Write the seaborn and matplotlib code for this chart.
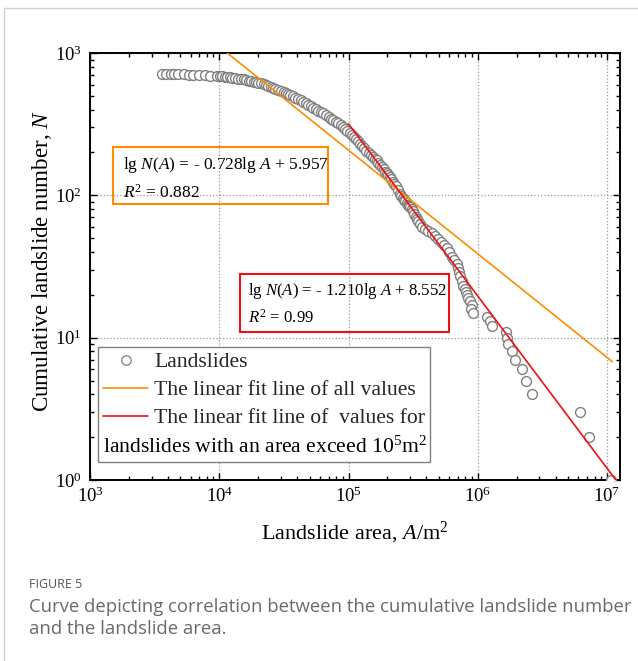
import numpy as np
import pandas as pd
import matplotlib
matplotlib.use("Agg")
import matplotlib.pyplot as plt
from matplotlib.lines import Line2D
from matplotlib.patches import Rectangle
import seaborn as sns

# ---------------- data ----------------
area = [3610, 3900, 4200, 4500, 4800, 5300, 5800, 6300, 7000, 7700, 8500, 9600,
        10050, 10500, 11000, 11500, 12050, 12600, 13300, 14000, 14700, 15400,
        16200, 17000, 17700, 18500, 19200, 20000, 21000, 22000, 23000, 24000,
        25000, 26000, 27200, 28500, 30000, 31400, 32700, 34000, 35500, 37000,
        38700, 40500, 42600, 44800, 46900, 49000, 51200, 53500, 56000, 58500,
        61200, 63900, 66900, 70000, 73000, 76000, 79500, 83000, 87000, 91200,
        94500, 98000, 102000, 106000, 110000, 114000, 118000, 122700, 127000,
        132000, 137500, 143000, 148500, 154000, 159500, 165000, 170500, 176000,
        182000, 188000, 193000, 198000, 203500, 209000, 214500, 220000, 226000,
        232000, 241000, 250000, 256000, 262000, 268500, 275000, 281500, 288000,
        293500, 299000, 307000, 315000, 322000, 330000, 337000, 345000, 356000,
        367000, 390000, 415000, 440000, 465000, 490000, 520000, 550000, 573000,
        600000, 630000, 660000, 685000, 700000, 715000, 730000, 749000, 765000,
        790000, 805000, 818000, 845000, 870000, 894000,
        893000, 920000, 1170000, 1250000, 1290000, 1650000, 1680000, 1710000,
        1850000, 1930000, 2200000, 2380000, 2620000, 6210000, 7230000, 10800000]
count = [711, 711, 710, 709, 709, 708, 706, 704, 701, 698, 694, 689,
         686, 684, 681, 677, 674, 670, 666, 661, 657, 653,
         647, 640, 634, 628, 622, 616, 611, 605, 597, 588,
         580, 572, 563, 553, 544, 534, 525, 515, 505, 495,
         485, 475, 465, 454, 443, 432, 422, 412, 402, 393,
         385, 376, 366, 356, 346, 337, 328, 320, 311, 303,
         293, 284, 274, 264, 255, 247, 239, 231, 222,
         214, 206, 198, 192, 187, 181, 176, 169, 163,
         157, 152, 147, 143, 139, 135, 130, 125, 120,
         116, 109, 103, 99, 96, 93, 91, 88, 86,
         84, 83, 80, 77, 74, 71, 68, 66, 63,
         60, 58, 56, 54, 52, 49, 47, 45, 43,
         40, 37, 35, 33, 31, 29, 27, 25, 23,
         22, 21, 20, 19, 18, 17,
         16, 15, 14, 13, 12, 11, 10, 9,
         8, 7, 6, 5, 4, 3, 2, 1]

# linear fits in log-log space: lg N = k lg A + b
fit_all_k, fit_all_b = -0.728, 5.957
fit_big_k, fit_big_b = -1.210, 8.552
fit_all_range = [1.10e4, 1.10e7]
fit_big_range = [1.00e5, 1.17e7]

xtick_vals = [1e3, 1e4, 1e5, 1e6, 1e7]
ytick_vals = [1e0, 1e1, 1e2, 1e3]

legend_labels = ["Landslides", "The linear fit line of all values",
                 "The linear fit line of  values for",
                 r"landslides with an area exceed 10$^5$m$^2$"]

# ---------------- style ----------------
sns.set_theme(style="ticks")
plt.rcParams["font.family"] = ["Liberation Serif", "DejaVu Serif"]
plt.rcParams["mathtext.fontset"] = "custom"
plt.rcParams["mathtext.rm"] = "Liberation Serif"
plt.rcParams["mathtext.it"] = "Liberation Serif:italic"
plt.rcParams["mathtext.bf"] = "Liberation Serif:bold"

ORANGE = "#ff8c00"
RED = "#ee1111"
GRAY = "#808080"

fig = plt.figure(figsize=(6.38, 6.61), dpi=100)
ax = fig.add_axes([90 / 638, 1 - 480 / 661, 530 / 638, 427 / 661])

df = pd.DataFrame({"area": area, "N": count})
sns.scatterplot(data=df, x="area", y="N", marker="o", s=50, color="white",
                edgecolor=GRAY, linewidth=1.0, ax=ax, legend=False, zorder=3)

xa = np.array(fit_all_range)
ya = 10 ** (fit_all_b + fit_all_k * np.log10(xa))
xb = np.array(fit_big_range)
yb = 10 ** (fit_big_b + fit_big_k * np.log10(xb))
sns.lineplot(x=xa, y=ya, color=ORANGE, linewidth=1.2, ax=ax, zorder=4)
sns.lineplot(x=xb, y=yb, color=RED, linewidth=1.2, ax=ax, zorder=5)

ax.set_xscale("log")
ax.set_yscale("log")
ax.set_xlim(1e3, 10 ** 7.1)
ax.set_ylim(1, 1000)
ax.set_xticks(xtick_vals)
ax.set_yticks(ytick_vals)

for s in ax.spines.values():
    s.set_visible(True)
    s.set_color("black")
    s.set_linewidth(1.4)
ax.tick_params(which="both", direction="in", top=True, right=True,
               color="black", width=1.0, labelsize=13.5, labelcolor="black")
ax.tick_params(which="major", length=5)
ax.tick_params(which="minor", length=3)
ax.tick_params(axis="x", which="major", pad=5)
ax.tick_params(axis="y", which="major", pad=6)
ax.grid(True, which="major", linestyle=":", color="#999999", linewidth=0.9, zorder=0)
ax.set_axisbelow(True)

ax.set_xlabel(r"Landslide area, $A$/m$^2$", fontsize=16, color="black")
ax.set_ylabel(r"Cumulative landslide number, $N$", fontsize=16.6, color="black")
ax.xaxis.set_label_coords(0.5, -0.094)
ax.yaxis.set_label_coords(-0.068, 0.512)

# equation boxes
ax.add_patch(Rectangle((0.0434, 0.6464), 0.4056, 0.1335, transform=ax.transAxes,
                       fill=False, edgecolor=ORANGE, linewidth=1.5, zorder=6))
ax.text(0.0628, 0.7377, r"lg $N$($A$) = - 0.728lg $A$ + 5.957", transform=ax.transAxes,
        fontsize=12.5, va="center", ha="left", color="black", zorder=7)
ax.text(0.0628, 0.6728, r"$R^2$ = 0.882", transform=ax.transAxes,
        fontsize=12.5, va="center", ha="left", color="black", zorder=7)

ax.add_patch(Rectangle((0.283, 0.3466), 0.394, 0.1358, transform=ax.transAxes,
                       fill=False, edgecolor=RED, linewidth=1.5, zorder=6))
ax.text(0.2975, 0.4426, r"lg $N$($A$) = - 1.210lg $A$ + 8.552", transform=ax.transAxes,
        fontsize=12.1, va="center", ha="left", color="black", zorder=7)
ax.text(0.2975, 0.3794, r"$R^2$ = 0.99", transform=ax.transAxes,
        fontsize=12.1, va="center", ha="left", color="black", zorder=7)

# legend
handles = [Line2D([], [], marker="o", ls="none", mfc="white", mec=GRAY, ms=6.8, mew=0.9),
           Line2D([], [], color=ORANGE, lw=1.2),
           Line2D([], [], color=RED, lw=1.2),
           Line2D([], [], color="none")]
leg = ax.legend(handles, legend_labels[:3] + [" "], loc="lower left",
                bbox_to_anchor=(0.015, 0.042), borderaxespad=0, fontsize=15.6,
                handlelength=2.07, handletextpad=0.26, borderpad=0.25,
                labelspacing=0.37, fancybox=False, framealpha=1, edgecolor=GRAY)
leg.get_frame().set_linewidth(1.0)
leg.set_zorder(8)

fig.canvas.draw()
r = fig.canvas.get_renderer()
fb = leg.get_frame().get_window_extent(r)
tb = leg.get_texts()[3].get_window_extent(r)
inv = fig.transFigure.inverted()
x0, _ = inv.transform((fb.x0 + 5, 0))
_, yc = inv.transform((0, (tb.y0 + tb.y1) / 2))
fig.text(x0, yc, legend_labels[3], fontsize=15.6, va="center", ha="left", color="black",
         zorder=9)

# caption & page border
fig.add_artist(Line2D([4 / 638, 1], [1 - 8 / 661, 1 - 8 / 661], color="#d0d0d0", lw=1.0,
                      transform=fig.transFigure))
fig.add_artist(Line2D([4 / 638, 4 / 638], [0, 1 - 8 / 661], color="#d0d0d0", lw=1.0,
                      transform=fig.transFigure))
cap_font = ["Open Sans", "DejaVu Sans"]
fig.text(29 / 638, 1 - 584 / 661, "FIGURE 5", fontsize=9, color="#555555",
         family=cap_font, va="center", ha="left")
fig.text(29 / 638, 1 - 607 / 661, "Curve depicting correlation between the cumulative landslide number",
         fontsize=13.3, color="#6a6a6a", family=cap_font, va="center", ha="left")
fig.text(29 / 638, 1 - 629 / 661, "and the landslide area.",
         fontsize=13.3, color="#6a6a6a", family=cap_font, va="center", ha="left")

fig.savefig("out.png", dpi=100)
